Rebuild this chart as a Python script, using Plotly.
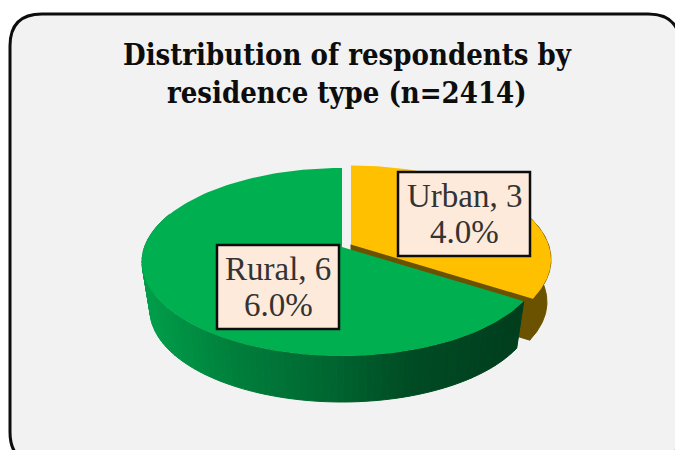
import math
import numpy as np
import plotly.graph_objects as go

categories = ["Urban", "Rural"]
percent = [34.0, 66.0]
label_lines = [["Urban, 3", "4.0%"], ["Rural, 6", "6.0%"]]
title_lines = ["Distribution of respondents by", "residence type (n=2414)"]

# --- projection of the tilted disc, in pixel-like axis units ---
CX, CY_TOP, RX_TOP, RY_TOP = 342.0, 262.0, 200.0, 94.0
CY_BOT, RX_BOT, RY_BOT = 310.0, 192.0, 92.0
APEX_UP = 15.0
EXPLODE = (9.0, -2.5)
EXPLODE_BOT = (13.0, -8.0)
DEPTH_APEX = 41.0


def rim(phi_deg, top=True, off=(0.0, 0.0)):
    """Point on the disc rim reached by the ray at angle phi (clockwise from 12 o'clock)."""
    rx, ry, cy = (RX_TOP, RY_TOP, CY_TOP) if top else (RX_BOT, RY_BOT, CY_BOT)
    p = math.radians(phi_deg)
    dx, dy = rx * math.sin(p), -ry * math.cos(p)
    a = (dx / rx) ** 2 + (dy / ry) ** 2
    b = 2 * (-APEX_UP) * dy / ry ** 2
    c = (APEX_UP / ry) ** 2 - 1
    t = (-b + math.sqrt(b * b - 4 * a * c)) / (2 * a)
    return CX + t * dx + off[0], cy - APEX_UP + t * dy + off[1]


def arc(a, b, top=True, off=(0.0, 0.0), n=160):
    return [rim(v, top, off) for v in np.linspace(a, b, n)]


def poly(fig, pts, color, line=None):
    xs = [p[0] for p in pts] + [pts[0][0]]
    ys = [p[1] for p in pts] + [pts[0][1]]
    fig.add_trace(go.Scatter(
        x=xs, y=ys, mode="lines", fill="toself", fillcolor=color,
        line=dict(color=line or color, width=1 if line else 0),
        hoverinfo="skip", showlegend=False))


GREEN_STOPS = [(145, (0, 158, 74)), (230, (0, 128, 60)), (320, (0, 105, 50)),
               (410, (0, 76, 36)), (520, (0, 62, 30))]


def green_at(x):
    xs = [s[0] for s in GREEN_STOPS]
    rgb = [int(np.interp(x, xs, [s[1][i] for s in GREEN_STOPS])) for i in range(3)]
    return "rgb(%d,%d,%d)" % tuple(rgb)


urban_sweep = percent[0] / sum(percent) * 360.0

fig = go.Figure()

# Urban slice: walls then top
u_apex_top = (CX + EXPLODE[0], CY_TOP - APEX_UP + EXPLODE[1])
u_apex_bot = (u_apex_top[0], u_apex_top[1] + DEPTH_APEX)
u_wall = "#6b5200"
poly(fig, arc(60, urban_sweep, True, EXPLODE) + arc(urban_sweep, 60, False, EXPLODE_BOT),
     u_wall, line=u_wall)
tip_t, tip_b = rim(urban_sweep, True, EXPLODE), rim(urban_sweep, False, EXPLODE_BOT)
poly(fig, [u_apex_top, tip_t, tip_b, u_apex_bot], u_wall, line=u_wall)
poly(fig, [u_apex_top] + arc(0, urban_sweep, True, EXPLODE), "#ffc000")

# Rural slice: shaded wall in strips, then top
edges = np.linspace(urban_sweep, 292, 90)
for a, b in zip(edges[:-1], edges[1:]):
    ta, tb = rim(a), rim(b)
    ba, bb = rim(a, False), rim(b, False)
    col = green_at((ta[0] + tb[0]) / 2)
    poly(fig, [ta, tb, bb, ba], col, line=col)
poly(fig, [(CX, CY_TOP - APEX_UP)] + arc(urban_sweep, 360), "#00b050")

boxes = [dict(x0=398, x1=530, y0=172, y1=256), dict(x0=217, x1=339, y0=245, y1=329)]
shapes = [dict(
    type="path", layer="below",
    path="M 10 46 Q 10 14 42 14 L 648 14 Q 680 14 680 46 L 680 432 Q 680 464 648 464 "
         "L 42 464 Q 10 464 10 432 Z",
    fillcolor="#f2f2f2", line=dict(color="#0d0d0d", width=3))]
annotations = []
for line, y in zip(title_lines, [55, 93]):
    annotations.append(dict(
        x=347, y=y, xref="x", yref="y", xanchor="center", yanchor="middle", showarrow=False,
        text="<b>" + line + "</b>",
        font=dict(family="DejaVu Serif Condensed", size=29, color="#0d0d0d")))
for box, lines in zip(boxes, label_lines):
    shapes.append(dict(type="rect", layer="above", line=dict(color="#0d0d0d", width=2.5),
                       fillcolor="#fdeadb", **box))
    cy = (box["y0"] + box["y1"]) / 2
    for line, dy in zip(lines, [-18, 18]):
        annotations.append(dict(
            x=(box["x0"] + box["x1"]) / 2, y=cy + dy,
            xref="x", yref="y", xanchor="center", yanchor="middle", showarrow=False,
            text=line,
            font=dict(family="Liberation Serif", size=33, color="#333333")))

fig.update_layout(
    width=675, height=450, margin=dict(l=0, r=0, t=0, b=0),
    paper_bgcolor="#ffffff", plot_bgcolor="rgba(0,0,0,0)", showlegend=False,
    xaxis=dict(range=[0, 675], visible=False, fixedrange=True),
    yaxis=dict(range=[450, 0], visible=False, fixedrange=True),
    shapes=shapes, annotations=annotations)

fig.write_html("out.html", config=dict(displayModeBar=False, staticPlot=True),
               post_script="document.body.style.margin='0';document.body.style.overflow='hidden';")
